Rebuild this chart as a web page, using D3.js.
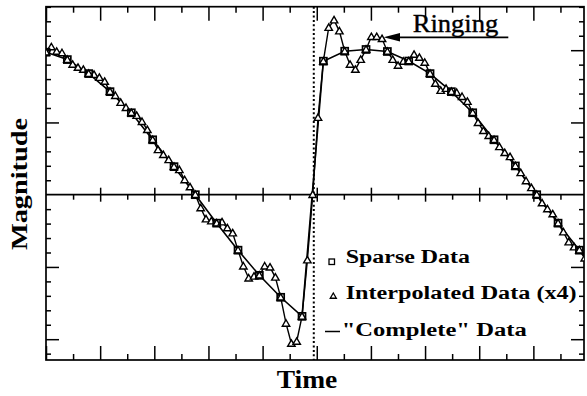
<!DOCTYPE html>
<html>
<head>
<meta charset="utf-8">
<script src="https://cdn.jsdelivr.net/npm/d3@7"></script>
<style>
  body { margin: 0; background: #fff; }
  text { fill: #000; font-family: "Liberation Serif", "Times New Roman", Times, serif; }
</style>
</head>
<body>
<svg id="chart" width="587" height="396"></svg>
<script>
// Magnitude of the sparse samples (one every samplePeriod)
const sparseValues = [
  9.86, 9.35, 8.38, 7.13, 5.67, 3.80, 1.94, 0.00, -1.97, -3.84, -5.58, -7.10, -8.42,
  9.24, 9.93, 10.05, 9.91, 9.25, 8.38, 7.13, 5.67, 3.80, 1.99, 0.00, -1.97, -3.84
];

// Reference signal at the same instants, running on past the right edge
const completeValues = [
  9.86, 9.35, 8.38, 7.13, 5.67, 3.80, 1.94, 0.00, -1.97, -3.84, -5.58, -7.10, -8.42,
  9.24, 9.93, 10.05, 9.91, 9.25, 8.38, 7.13, 5.67, 3.80, 1.99, 0.00, -1.97, -3.84, -5.58
];

// Four-times interpolated samples (every samplePeriod / 4)
const interpolatedValues = [
  9.86, 10.22, 9.91, 9.81, 9.35, 9.01, 8.80, 8.66, 8.38, 8.31,
  8.10, 7.83, 7.13, 6.85, 6.37, 6.02, 5.67, 5.47, 5.05, 4.49,
  3.80, 3.10, 2.76, 2.41, 1.94, 1.72, 1.02, 0.53, 0.00, -0.92,
  -1.69, -1.83, -1.97, -1.90, -2.31, -2.66, -3.84, -4.95, -5.78, -5.65,
  -5.58, -4.95, -5.02, -5.72, -7.10, -8.91, -10.30, -10.16, -8.42, -4.53,
  0.00, 5.33, 9.24, 11.56, 12.08, 11.32, 9.93, 9.01, 8.66, 9.35,
  10.05, 10.93, 10.93, 10.79, 9.91, 9.35, 8.94, 9.22, 9.25, 9.70,
  9.49, 9.15, 8.38, 7.69, 7.20, 7.34, 7.13, 7.06, 6.78, 6.44,
  5.67, 4.98, 4.42, 4.08, 3.80, 3.31, 2.90, 2.62, 1.99, 1.51,
  0.95, 0.47, 0.00, -0.58, -0.99, -1.34, -1.97, -2.59, -3.28, -3.63,
  -3.84, -4.40, -4.95
];

const samplePeriod = 0.788;   // time between sparse samples
const interpFactor = 4;
const stepTime = 9.89;        // instant of the discontinuity

const legendLabels = ["Sparse Data", "Interpolated Data (x4)", "\"Complete\" Data"];
const annotationLabel = "Ringing";
const xTitle = "Time";
const yTitle = "Magnitude";

const xTicks = d3.range(0, 20);          // one tick per time unit
const xMajor = xTicks.filter(t => t % 2 === 0);
const xMinor = xTicks.filter(t => t % 2 === 1);
const yTicks = d3.range(-11, 14);
const yMinor = yTicks.filter(v => v % 5 !== 0);

const svg = d3.select("#chart");
const plot = { left: 46, right: 584, top: 6.7, bottom: 360 };

const x = d3.scaleLinear().domain([0, 19.87]).range([plot.left, plot.right]);
const y = d3.scaleLinear().domain([-11.44, 13.01]).range([plot.bottom, plot.top]);

const sparse = sparseValues.map((v, i) => ({ t: i * samplePeriod, v }));
const complete = completeValues.map((v, i) => ({ t: i * samplePeriod, v }));
const interp = interpolatedValues.map((v, j) => ({ t: j * samplePeriod / interpFactor, v }));

svg.append("defs").append("clipPath").attr("id", "plotClip")
  .append("rect")
  .attr("x", plot.left).attr("y", plot.top)
  .attr("width", plot.right - plot.left).attr("height", plot.bottom - plot.top);

const tickStyle = g => {
  g.select(".domain").remove();
  g.selectAll(".tick line").attr("stroke", "#000").attr("stroke-width", 1.5);
  g.selectAll(".tick text").remove();
};

// frame ticks: top and bottom
svg.append("g").attr("transform", `translate(0,${plot.top})`)
  .call(d3.axisBottom(x).tickValues(xMajor).tickSize(14)).call(tickStyle);
svg.append("g").attr("transform", `translate(0,${plot.top})`)
  .call(d3.axisBottom(x).tickValues(xMinor).tickSize(6)).call(tickStyle);
svg.append("g").attr("transform", `translate(0,${plot.bottom})`)
  .call(d3.axisTop(x).tickValues(xMajor).tickSize(14)).call(tickStyle);
svg.append("g").attr("transform", `translate(0,${plot.bottom})`)
  .call(d3.axisTop(x).tickValues(xMinor).tickSize(6)).call(tickStyle);

// frame ticks: left and right
svg.append("g").attr("transform", `translate(${plot.left},0)`)
  .call(d3.axisRight(y).tickValues([-10, -5, 5]).tickSize(13)).call(tickStyle);
svg.append("g").attr("transform", `translate(${plot.left},0)`)
  .call(d3.axisRight(y).tickValues(yMinor.concat([10])).tickSize(5)).call(tickStyle);
svg.append("g").attr("transform", `translate(${plot.right},0)`)
  .call(d3.axisLeft(y).tickValues([-10, -5, 5, 10]).tickSize(13)).call(tickStyle);
svg.append("g").attr("transform", `translate(${plot.right},0)`)
  .call(d3.axisLeft(y).tickValues(yMinor).tickSize(5)).call(tickStyle);

// zero line with its own ticks
const y0 = y(0);
svg.append("line")
  .attr("x1", plot.left).attr("x2", plot.right)
  .attr("y1", y0).attr("y2", y0)
  .attr("stroke", "#000").attr("stroke-width", 1.8);
svg.append("g").attr("transform", `translate(0,${y0 - 7})`)
  .call(d3.axisBottom(x).tickValues(xMajor.filter(t => t > 0)).tickSize(14)).call(tickStyle);
svg.append("g").attr("transform", `translate(0,${y0})`)
  .call(d3.axisBottom(x).tickValues(xMinor).tickSize(5)).call(tickStyle);

// frame
svg.append("rect")
  .attr("x", plot.left).attr("y", plot.top)
  .attr("width", plot.right - plot.left).attr("height", plot.bottom - plot.top)
  .attr("fill", "none").attr("stroke", "#000").attr("stroke-width", 1.7);

// dotted marker at the discontinuity
svg.append("line")
  .attr("x1", x(stepTime)).attr("x2", x(stepTime))
  .attr("y1", plot.top).attr("y2", plot.bottom)
  .attr("stroke", "#000").attr("stroke-width", 2)
  .attr("stroke-dasharray", "2,2.4");

const data = svg.append("g").attr("clip-path", "url(#plotClip)");
const line = d3.line().x(d => x(d.t)).y(d => y(d.v));

data.append("path").datum(complete)
  .attr("d", line).attr("fill", "none")
  .attr("stroke", "#000").attr("stroke-width", 1.6);
data.append("path").datum(interp)
  .attr("d", line).attr("fill", "none")
  .attr("stroke", "#000").attr("stroke-width", 1.4);

const tri = d3.symbol(d3.symbolTriangle, 24);
data.selectAll(".tri").data(interp).join("path")
  .attr("class", "tri")
  .attr("transform", d => `translate(${x(d.t)},${y(d.v) + 0.6})`)
  .attr("d", tri)
  .attr("fill", "#fff").attr("stroke", "#000").attr("stroke-width", 1.4);

const sq = 7;
data.selectAll(".sq").data(sparse).join("rect")
  .attr("class", "sq")
  .attr("x", d => x(d.t) - sq / 2).attr("y", d => y(d.v) - sq / 2)
  .attr("width", sq).attr("height", sq)
  .attr("fill", "none").attr("stroke", "#000").attr("stroke-width", 1.7);

// legend
svg.append("rect")
  .attr("x", 329).attr("y", 259).attr("width", 5.5).attr("height", 5.5)
  .attr("fill", "#fff").attr("stroke", "#000").attr("stroke-width", 1.3);
svg.append("path")
  .attr("transform", "translate(333.3,296.5)")
  .attr("d", d3.symbol(d3.symbolTriangle, 16)())
  .attr("fill", "#fff").attr("stroke", "#000").attr("stroke-width", 1.3);
svg.append("line")
  .attr("x1", 325).attr("x2", 340).attr("y1", 331.5).attr("y2", 331.5)
  .attr("stroke", "#000").attr("stroke-width", 1.5);

const legendRows = [
  { x: 345.7, y: 263.3, w: 124.3 },
  { x: 345.7, y: 299.3, w: 231 },
  { x: 341.7, y: 336, w: 185 }
];
legendRows.forEach((r, k) => {
  svg.append("text")
    .attr("x", r.x).attr("y", r.y)
    .attr("font-weight", "bold").attr("font-size", 18)
    .attr("textLength", r.w).attr("lengthAdjust", "spacingAndGlyphs")
    .text(legendLabels[k]);
});

// annotation with arrow
svg.append("line")
  .attr("x1", 392).attr("x2", 508.3).attr("y1", 37.3).attr("y2", 37.3)
  .attr("stroke", "#000").attr("stroke-width", 1.7);
svg.append("path")
  .attr("d", "M383.5,37.3 L400,33 L400,41.6 Z")
  .attr("fill", "#000");
svg.append("text")
  .attr("x", 412.7).attr("y", 32.3)
  .attr("font-size", 26)
  .attr("stroke", "#000").attr("stroke-width", 0.4)
  .attr("textLength", 85.6).attr("lengthAdjust", "spacingAndGlyphs")
  .text(annotationLabel);

// axis titles
svg.append("text")
  .attr("x", 307).attr("y", 388.3)
  .attr("text-anchor", "middle")
  .attr("font-weight", "bold").attr("font-size", 25)
  .attr("textLength", 60.6).attr("lengthAdjust", "spacingAndGlyphs")
  .text(xTitle);
svg.append("text")
  .attr("transform", "translate(26.7,184) rotate(-90)")
  .attr("text-anchor", "middle")
  .attr("font-weight", "bold").attr("font-size", 23)
  .attr("textLength", 132).attr("lengthAdjust", "spacingAndGlyphs")
  .text(yTitle);
</script>
</body>
</html>
